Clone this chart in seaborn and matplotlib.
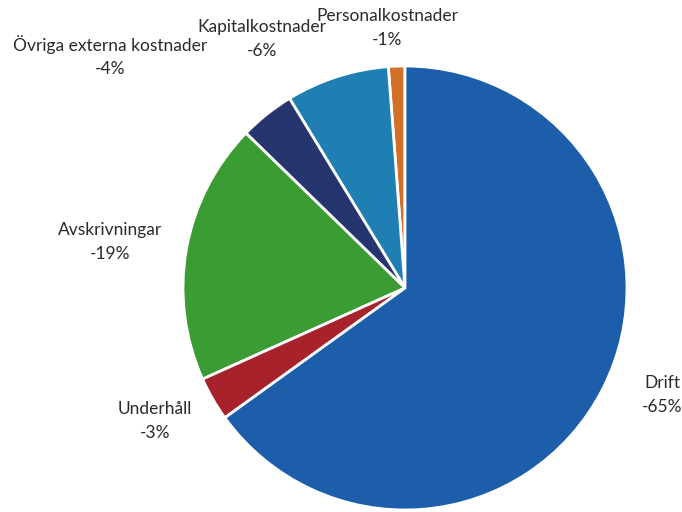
import matplotlib
matplotlib.use("Agg")
import matplotlib.pyplot as plt
import seaborn as sns

# Kostnadsposter (moturs från toppen)
kategorier = ["Personalkostnader", "Kapitalkostnader", "Övriga externa kostnader",
              "Avskrivningar", "Underhåll", "Drift"]
andelar = [1.2, 7.5, 4.0, 19.0, 3.2, 65.0]
etiketter = ["-1%", "-6%", "-4%", "-19%", "-3%", "-65%"]
farger = ["#d2702a", "#1f7fb3", "#27356f", "#3c9c34", "#a8222c", "#1d5eaa"]

# etikettpositioner i pixlar (x, y från toppen)
etikett_pos = [(387, 28), (262, 39), (110, 56), (110, 242), (155, 421), (662, 395)]

sns.set_theme(style="white")
plt.rcParams["font.family"] = ["Lato", "DejaVu Sans"]

fig = plt.figure(figsize=(6.82, 5.12), dpi=100)
ax = fig.add_axes([0, 0, 1, 1])

cx, cy, r = 405, 288, 222
ax.pie(andelar, colors=farger, startangle=90, counterclock=True, radius=1,
       center=(0, 0), wedgeprops=dict(edgecolor="white", linewidth=2))

ax.set_xlim(-cx / r, (682 - cx) / r)
ax.set_ylim(-(512 - cy) / r, cy / r)
ax.set_aspect("equal")
ax.axis("off")

for kat, lab, (px, py) in zip(kategorier, etiketter, etikett_pos):
    ax.text((px - cx) / r, (cy - py) / r, f"{kat}\n{lab}", ha="center", va="center",
            fontsize=12.5, color="#2a2a2a", linespacing=1.6)

fig.savefig("out.png", dpi=100, facecolor="white")
